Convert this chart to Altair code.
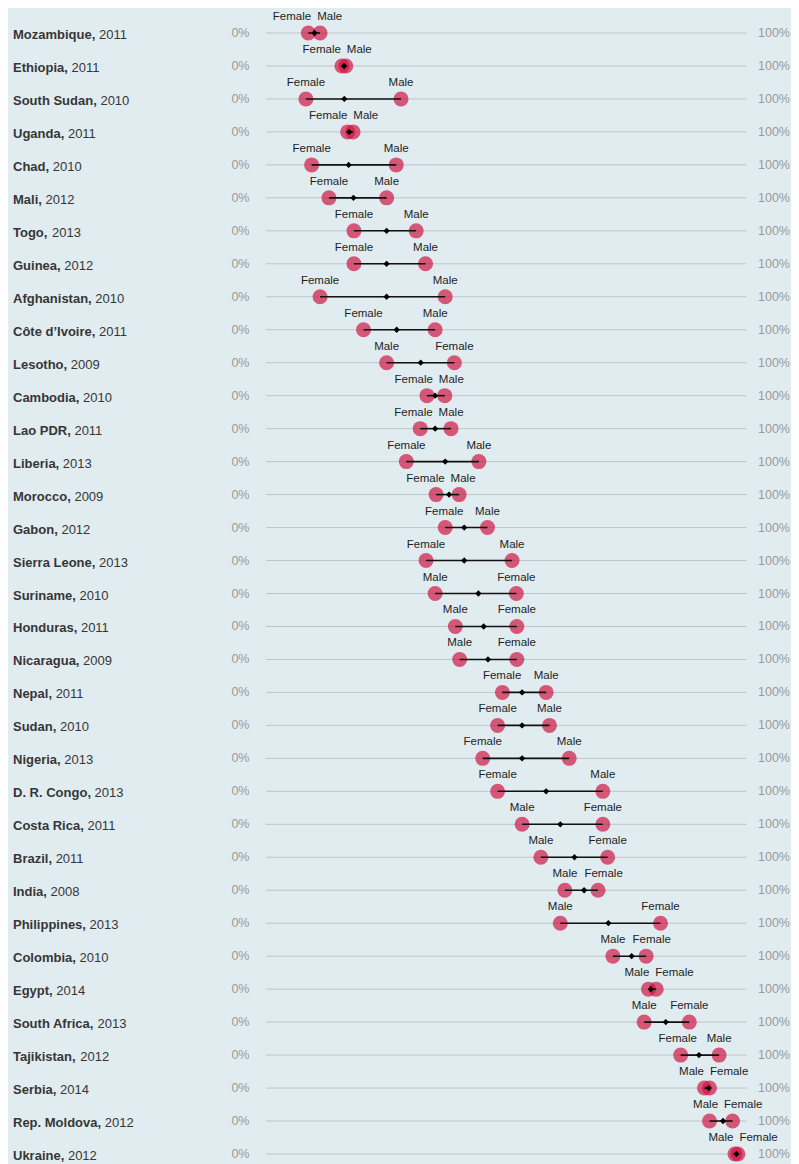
import altair as alt
import pandas as pd

countries = ["Mozambique", "Ethiopia", "South Sudan", "Uganda", "Chad", "Mali", "Togo",
             "Guinea", "Afghanistan", "Côte d’Ivoire", "Lesotho", "Cambodia", "Lao PDR",
             "Liberia", "Morocco", "Gabon", "Sierra Leone", "Suriname", "Honduras",
             "Nicaragua", "Nepal", "Sudan", "Nigeria", "D. R. Congo", "Costa Rica",
             "Brazil", "India", "Philippines", "Colombia", "Egypt", "South Africa",
             "Tajikistan", "Serbia", "Rep. Moldova", "Ukraine"]
years = ["2011", "2011", "2010", "2011", "2010", "2012", "2013", "2012", "2010", "2011",
         "2009", "2010", "2011", "2013", "2009", "2012", "2013", "2010", "2011", "2009",
         "2011", "2010", "2013", "2013", "2011", "2011", "2008", "2013", "2010", "2014",
         "2013", "2012", "2014", "2012", "2012"]
female = [8.8, 15.8, 8.3, 17.0, 9.5, 13.1, 18.3, 18.3, 11.25, 20.3,
          39.2, 33.5, 32.1, 29.2, 35.4, 37.3, 33.3, 52.1, 52.2, 52.2,
          49.2, 48.2, 45.1, 48.2, 70.1, 71.1, 69.1, 82.1, 79.1, 81.2,
          88.1, 86.3, 92.3, 97.1, 98.2]
male = [11.25, 16.6, 28.1, 18.1, 27.1, 25.1, 31.25, 33.2, 37.3, 35.2,
        25.1, 37.2, 38.5, 44.3, 40.2, 46.1, 51.2, 35.2, 39.4, 40.3,
        58.3, 59.0, 63.1, 70.1, 53.3, 57.2, 62.2, 61.25, 72.2, 79.6,
        78.7, 94.3, 91.25, 92.3, 97.6]
total = [10.1, 16.25, 16.3, 17.3, 17.2, 18.2, 25.1, 25.1, 25.1, 27.2,
         32.2, 35.2, 35.2, 37.3, 38.1, 41.25, 41.25, 44.2, 45.3, 46.2,
         53.3, 53.3, 53.3, 58.3, 61.25, 64.2, 66.2, 71.25, 76.1, 80.1,
         83.2, 90.1, 92.1, 95.1, 97.9]

FONT = "Liberation Sans"
BG = "#e1ecf0"
DOT = "#d01040"

# Arial / Liberation Sans metrics (per 1000 em) used to place the regular year after the bold name
BOLD_W = dict(zip("ABCDEFGHIJKLMNOPQRSTUVWXYZ",
                  [722, 722, 722, 722, 667, 611, 778, 722, 278, 556, 722, 611, 833, 722, 778,
                   667, 778, 722, 667, 611, 722, 667, 944, 667, 667, 611]))
BOLD_W.update(dict(zip("abcdefghijklmnopqrstuvwxyz",
                       [556, 611, 556, 611, 556, 333, 611, 611, 278, 278, 556, 278, 889, 611,
                        611, 611, 611, 389, 556, 333, 611, 556, 778, 556, 556, 500])))
BOLD_W.update({" ": 278, ",": 278, ".": 278, "ô": 611, "’": 278})
REG_W = {"F": 611, "e": 556, "m": 833, "a": 556, "l": 222, "M": 833, " ": 278}

NAME_FS = 13
LAB_FS = 11.5
X0, X1 = 258, 738.5          # pixel range of 0%..100%
K = (X1 - X0) / 100.0        # pixels per percent
NAME_X = 5


def width(s, table, fs):
    return sum(table.get(c, 556) for c in s) * fs / 1000.0


def px_to_val(px):
    return (px - X0) / K


rows = []
labels = []
for c, yr, f, m, t in zip(countries, years, female, male, total):
    name = c + ","
    yx = NAME_X + width(name, BOLD_W, NAME_FS) + width(" ", BOLD_W, NAME_FS)
    rows.append(dict(country=c, name=name, year=yr, female=f, male=m, total=t,
                     lo=min(f, m), hi=max(f, m), name_x=px_to_val(NAME_X),
                     year_x=px_to_val(yx), zero_x=px_to_val(241.5), hund_x=px_to_val(782)))
    lo_sex, hi_sex = ("Female", "Male") if f <= m else ("Male", "Female")
    lo_v, hi_v = min(f, m), max(f, m)
    mid = (lo_v + hi_v) / 2
    wl = width(lo_sex, REG_W, LAB_FS)
    wr = width(hi_sex, REG_W, LAB_FS)
    labels.append(dict(country=c, sex=lo_sex, val=lo_v,
                       lab_x=min(lo_v, mid - (3 + wl / 2) / K)))
    labels.append(dict(country=c, sex=hi_sex, val=hi_v,
                       lab_x=max(hi_v, mid + (3 + wr / 2) / K)))

df = pd.DataFrame(rows)
df["g0"] = 0
df["g1"] = 100
lab = pd.DataFrame(labels)

xs = alt.Scale(domain=[0, 100], range=[X0, X1], clamp=False, nice=False, zero=False)
Y = alt.Y("country:N", sort=countries, axis=None,
          scale=alt.Scale(type="point", range=[25, 1146], padding=0))


def X(field):
    return alt.X(field, type="quantitative", scale=xs, axis=None)


base = alt.Chart(df)

grid = base.mark_rule(color="#bcc6ca", strokeWidth=1).encode(
    x=X("g0"), x2="g1:Q", y=Y)

dots = alt.Chart(lab).mark_circle(size=225, color=DOT, opacity=0.68).encode(
    x=X("val"), y=Y)

conn = base.mark_rule(color="#111111", strokeWidth=1.6).encode(
    x=X("lo"), x2="hi:Q", y=Y)

diam = base.mark_point(shape="diamond", filled=True, color="#000000", size=40, opacity=1).encode(
    x=X("total"), y=Y)

sexlab = alt.Chart(lab).mark_text(font=FONT, fontSize=LAB_FS, color="#1e1e1e",
                                  baseline="middle", align="center", dy=-16).encode(
    x=X("lab_x"), y=Y, text="sex:N")

names = base.mark_text(font=FONT, fontSize=NAME_FS, fontWeight="bold", color="#363636",
                       baseline="middle", align="left", dy=2).encode(
    x=X("name_x"), y=Y, text="name:N")

yrs = base.mark_text(font=FONT, fontSize=NAME_FS, color="#363636",
                     baseline="middle", align="left", dy=2).encode(
    x=X("year_x"), y=Y, text="year:N")

zero = base.mark_text(font=FONT, fontSize=12.5, color="#999999",
                      baseline="middle", align="right", text="0%").encode(
    x=X("zero_x"), y=Y)

hundred = base.mark_text(font=FONT, fontSize=12.5, color="#999999",
                         baseline="middle", align="right", text="100%").encode(
    x=X("hund_x"), y=Y)

chart = alt.layer(grid, dots, conn, diam, sexlab, names, yrs, zero, hundred).properties(
    width=783, height=1156, autosize="none", padding=0,
    background=BG
).configure_view(stroke=None)

chart.save("out.html", embed_options={"renderer": "svg", "actions": False})
